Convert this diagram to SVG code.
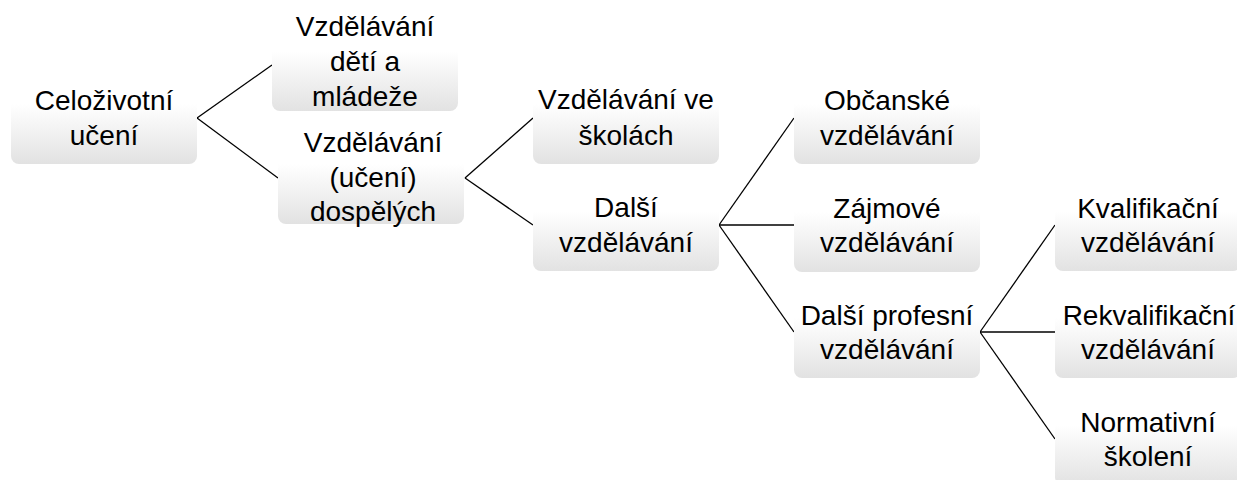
<svg xmlns="http://www.w3.org/2000/svg" width="1237" height="480" viewBox="0 0 1237 480">
<defs>
<linearGradient id="g" x1="0" y1="0" x2="0" y2="1">
<stop offset="0" stop-color="#ffffff"/>
<stop offset="0.35" stop-color="#ffffff"/>
<stop offset="1" stop-color="#e2e2e2"/>
</linearGradient>
</defs>
<style>
.box{fill:url(#g);stroke:none}
.t{font-family:"Liberation Sans",Arial,sans-serif;font-size:28px;fill:#000;text-anchor:middle}
.c line{stroke:#000;stroke-width:1.3;fill:none}
</style>
<rect width="1237" height="480" fill="#fff"/>
<g class="c" id="connectors">
<line x1="197" y1="118" x2="272" y2="65"/>
<line x1="197" y1="118" x2="278" y2="178"/>
<line x1="465" y1="178" x2="533" y2="118"/>
<line x1="465" y1="178" x2="533" y2="225"/>
<line x1="719" y1="225" x2="794" y2="118"/>
<line x1="719" y1="225" x2="794" y2="225"/>
<line x1="719" y1="225" x2="794" y2="332"/>
<line x1="980" y1="332" x2="1055" y2="225"/>
<line x1="980" y1="332" x2="1055" y2="332"/>
<line x1="980" y1="332" x2="1055" y2="439"/>
</g>
<g id="n1"><rect class="box" x="11" y="72" width="186" height="92" rx="8"/>
<text class="t" x="104" y="110">Celoživotní</text><text class="t" x="104" y="145">učení</text></g>
<g id="n2"><rect class="box" x="272" y="19" width="186" height="92" rx="8"/>
<text class="t" x="365" y="36">Vzdělávání</text><text class="t" x="365" y="71">dětí a</text><text class="t" x="365" y="106">mládeže</text></g>
<g id="n3"><rect class="box" x="278" y="132" width="186" height="92" rx="8"/>
<text class="t" x="373" y="152">Vzdělávání</text><text class="t" x="373" y="187">(učení)</text><text class="t" x="373" y="221">dospělých</text></g>
<g id="n4"><rect class="box" x="533" y="72" width="186" height="92" rx="8"/>
<text class="t" x="626" y="109">Vzdělávání ve</text><text class="t" x="626" y="145">školách</text></g>
<g id="n5"><rect class="box" x="533" y="179" width="186" height="92" rx="8"/>
<text class="t" x="626" y="217">Další</text><text class="t" x="626" y="252">vzdělávání</text></g>
<g id="n6"><rect class="box" x="794" y="72" width="186" height="92" rx="8"/>
<text class="t" x="887" y="110">Občanské</text><text class="t" x="887" y="145">vzdělávání</text></g>
<g id="n7"><rect class="box" x="794" y="180" width="186" height="92" rx="8"/>
<text class="t" x="887" y="218">Zájmové</text><text class="t" x="887" y="252">vzdělávání</text></g>
<g id="n8"><rect class="box" x="794" y="286" width="186" height="92" rx="8"/>
<text class="t" x="887" y="325">Další profesní</text><text class="t" x="887" y="359">vzdělávání</text></g>
<g id="n9"><rect class="box" x="1055" y="179" width="186" height="92" rx="8"/>
<text class="t" x="1148" y="218">Kvalifikační</text><text class="t" x="1148" y="252">vzdělávání</text></g>
<g id="n10"><rect class="box" x="1055" y="286" width="186" height="92" rx="8"/>
<text class="t" x="1149" y="325">Rekvalifikační</text><text class="t" x="1148" y="359">vzdělávání</text></g>
<g id="n11"><rect class="box" x="1055" y="393" width="186" height="92" rx="8"/>
<text class="t" x="1148" y="432">Normativní</text><text class="t" x="1148" y="466">školení</text></g>
</svg>
